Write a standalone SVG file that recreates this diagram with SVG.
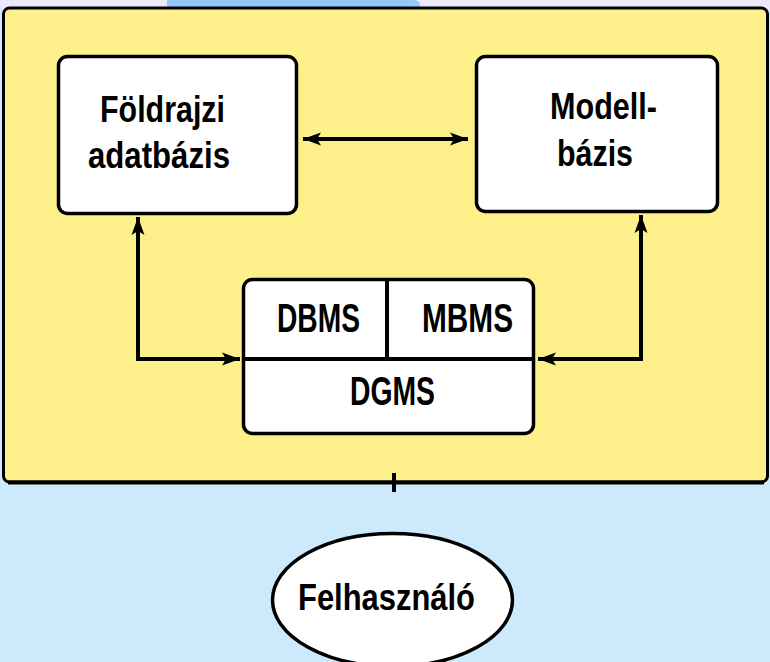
<svg xmlns="http://www.w3.org/2000/svg" width="770" height="662" viewBox="0 0 770 662">
  <defs>
    <style>
      .box { fill: #ffffff; stroke: #000000; stroke-width: 3.5; }
      .wire { fill: none; stroke: #000000; stroke-width: 4; }
      .lbl { font-family: "Liberation Sans", Arial, sans-serif; font-weight: bold; fill: #000000; }
      .big { font-size: 37px; }
      .sub { font-size: 41px; }
    </style>
    <marker id="tip" viewBox="0 0 18 14" refX="18" refY="7" markerWidth="18" markerHeight="14" markerUnits="userSpaceOnUse" orient="auto-start-reverse">
      <path d="M0,0.5 L18,7 L0,13.5 L4,7 Z" fill="#000000"/>
    </marker>
  </defs>

  <!-- backdrop -->
  <rect x="0" y="0" width="770" height="662" fill="#cdeafc"/>
  <rect x="0" y="0" width="770" height="10" fill="#e9e9fb"/>
  <path d="M167,0 H414 Q420,0 420,6 V10 H167 Z" fill="#96c8fa"/>

  <!-- system panel -->
  <g id="system-panel">
    <rect x="3.5" y="8" width="764" height="474" rx="6" fill="#fdf08a" stroke="#000000" stroke-width="3"/>
    <line x1="8" y1="482.5" x2="764" y2="482.5" stroke="#000000" stroke-width="4"/>
  </g>

  <!-- connectors -->
  <g id="connectors">
    <path class="wire" d="M303,139 H468" marker-start="url(#tip)" marker-end="url(#tip)"/>
    <path class="wire" d="M138,217 V359 H240" marker-start="url(#tip)" marker-end="url(#tip)"/>
    <path class="wire" d="M641,215 V359 H538" marker-start="url(#tip)" marker-end="url(#tip)"/>
    <line class="wire" x1="394" y1="473" x2="394" y2="492"/>
  </g>

  <g id="foldrajzi-adatbazis">
    <rect class="box" x="58.5" y="56.5" width="238" height="157" rx="9"/>
    <text class="lbl big" x="100" y="122" textLength="125" lengthAdjust="spacingAndGlyphs">Földrajzi</text>
    <text class="lbl big" x="88" y="168" textLength="142" lengthAdjust="spacingAndGlyphs">adatbázis</text>
  </g>

  <g id="modellbazis">
    <rect class="box" x="476.5" y="56.5" width="241" height="155" rx="9"/>
    <text class="lbl big" x="550" y="119" textLength="107" lengthAdjust="spacingAndGlyphs">Modell-</text>
    <text class="lbl big" x="557" y="166" textLength="76" lengthAdjust="spacingAndGlyphs">bázis</text>
  </g>

  <g id="dgms">
    <rect class="box" x="243.5" y="279.5" width="290" height="154" rx="9"/>
    <line class="wire" x1="243.5" y1="359" x2="533.5" y2="359"/>
    <line class="wire" x1="387" y1="279.5" x2="387" y2="359"/>
    <text class="lbl sub" x="277" y="332" textLength="83" lengthAdjust="spacingAndGlyphs">DBMS</text>
    <text class="lbl sub" x="422" y="332" textLength="91" lengthAdjust="spacingAndGlyphs">MBMS</text>
    <text class="lbl sub" x="350" y="405" textLength="85" lengthAdjust="spacingAndGlyphs">DGMS</text>
  </g>

  <g id="felhasznalo">
    <ellipse class="box" cx="392.5" cy="600" rx="120" ry="66.5"/>
    <text class="lbl big" x="298" y="610" textLength="177" lengthAdjust="spacingAndGlyphs">Felhasználó</text>
  </g>
</svg>
